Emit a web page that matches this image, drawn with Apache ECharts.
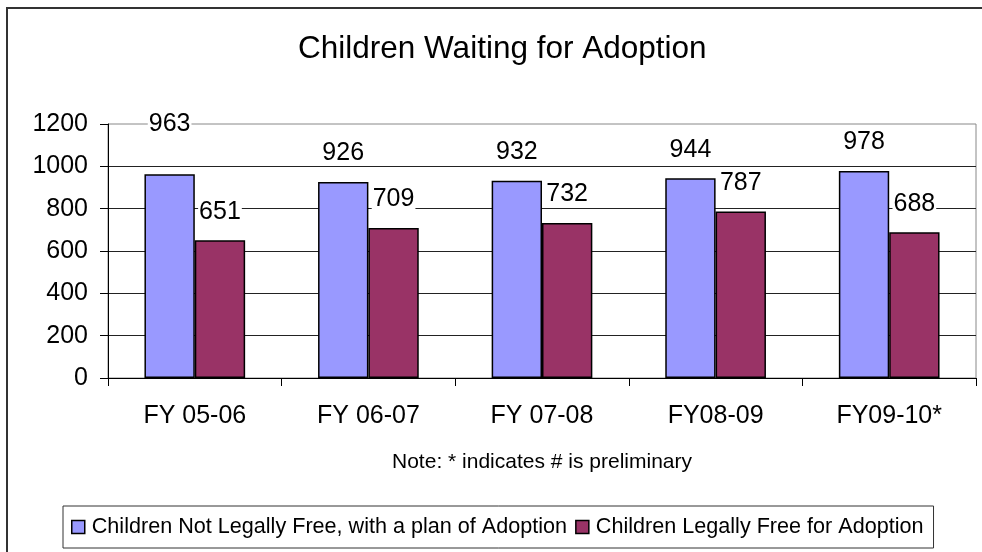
<!DOCTYPE html>
<html>
<head>
<meta charset="utf-8">
<script src="https://cdn.jsdelivr.net/npm/echarts@6/dist/echarts.min.js"></script>
<style>
  html, body { margin: 0; padding: 0; background: #fff; }
  #chart { width: 982px; height: 552px; }
</style>
</head>
<body>
<div id="chart"></div>
<script>
// categories and values
var years = ["FY 05-06", "FY 06-07", "FY 07-08", "FY08-09", "FY09-10*"];
var notFree = [963, 926, 932, 944, 978];
var legallyFree = [651, 709, 732, 787, 688];
// label distance above each bar (963 sits higher than the others)
var notFreeGap = [38, 16, 16, 16, 16];
var freeGap = [16, 16, 16, 16, 16];

var font = "Liberation Sans, Arial, sans-serif";

var labelStyle = {
  show: true,
  position: "top",
  color: "#000",
  fontSize: 25,
  fontFamily: font,
  backgroundColor: "#fff",
  padding: [0, 1]
};

function withGap(values, gaps) {
  return values.map(function (v, i) {
    return { value: v, label: { distance: gaps[i] } };
  });
}

var chart = echarts.init(document.getElementById("chart"));

var option = {
  animation: false,
  backgroundColor: "#fff",
  textStyle: { fontFamily: font },
  title: {
    text: "Children Waiting for Adoption",
    left: 293,
    top: 28,
    textStyle: { fontSize: 31.5, fontWeight: "normal", color: "#000", fontFamily: font }
  },
  graphic: [
    {
      type: "rect",
      shape: { x: 7, y: 8, width: 1000, height: 600 },
      style: { fill: "none", stroke: "#333", lineWidth: 2 },
      silent: true
    }
  ],
  legend: {
    left: 63,
    top: 506,
    itemWidth: 13,
    itemHeight: 13,
    itemGap: 8,
    padding: [10, 10, 10, 8],
    borderColor: "#333",
    borderWidth: 1,
    textStyle: { fontSize: 21.6, color: "#000", fontFamily: font, padding: [0, 0, 0, 2] },
    itemStyle: { borderColor: "#000", borderWidth: 1.5 },
    data: [
      { name: "Children Not Legally Free, with a plan of Adoption", icon: "rect" },
      { name: "Children Legally Free for Adoption", icon: "rect" }
    ]
  },
  grid: {
    left: 108,
    right: 6,
    top: 124,
    bottom: 174,
    show: true,
    borderColor: "#888",
    borderWidth: 1
  },
  xAxis: {
    type: "category",
    data: years,
    name: "Note: * indicates # is preliminary",
    nameLocation: "middle",
    nameGap: 74,
    nameTextStyle: { fontSize: 21, color: "#000", fontFamily: font },
    axisLine: { lineStyle: { color: "#000", width: 1 } },
    axisTick: { show: true, length: 8, lineStyle: { color: "#000" } },
    axisLabel: { fontSize: 25, color: "#000", margin: 26, fontFamily: font }
  },
  yAxis: {
    type: "value",
    min: 0,
    max: 1200,
    interval: 200,
    axisLine: { show: true, lineStyle: { color: "#000", width: 1 } },
    axisTick: { show: true, length: 8, lineStyle: { color: "#000" } },
    axisLabel: {
      fontSize: 25,
      color: "#000",
      margin: 20,
      fontFamily: font,
      formatter: function (v) { return String(v); }
    },
    splitLine: { show: true, showMaxLine: false, lineStyle: { color: "#222", width: 1 } }
  },
  series: [
    {
      name: "Children Not Legally Free, with a plan of Adoption",
      type: "bar",
      barGap: "0%",
      barCategoryGap: "42%",
      itemStyle: { color: "#9999FF", borderColor: "#000", borderWidth: 1.5 },
      label: labelStyle,
      data: withGap(notFree, notFreeGap)
    },
    {
      name: "Children Legally Free for Adoption",
      type: "bar",
      itemStyle: { color: "#993366", borderColor: "#000", borderWidth: 1.5 },
      label: labelStyle,
      data: withGap(legallyFree, freeGap)
    }
  ]
};

chart.setOption(option);
</script>
</body>
</html>
